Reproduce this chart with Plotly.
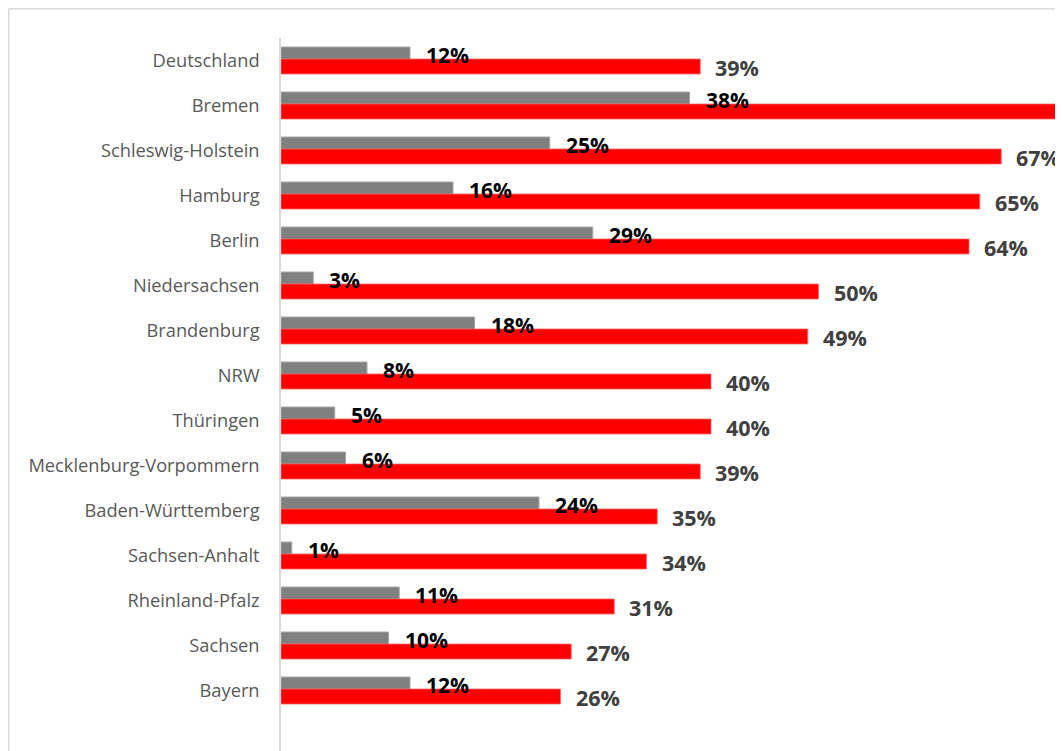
import plotly.graph_objects as go

categories = ["Deutschland", "Bremen", "Schleswig-Holstein", "Hamburg", "Berlin",
              "Niedersachsen", "Brandenburg", "NRW", "Thüringen",
              "Mecklenburg-Vorpommern", "Baden-Württemberg", "Sachsen-Anhalt",
              "Rheinland-Pfalz", "Sachsen", "Bayern"]
grey_values = [12, 38, 25, 16, 29, 3, 18, 8, 5, 6, 24, 1, 11, 10, 12]
red_values = [39, 75, 67, 65, 64, 50, 49, 40, 40, 39, 35, 34, 31, 27, 26]

# page has an 8px body margin; figure coordinates are page coordinates minus 8
W, H = 1055, 743
L, T = 273, 30
XMAX = (W - L) / 10.75
CAT_PX = 45.0
YMAX = -0.5 + (H - T) / CAT_PX

idx = list(range(len(categories)))
bw = 15 / CAT_PX

fig = go.Figure()
fig.add_trace(go.Bar(
    y=idx, x=grey_values, orientation="h",
    offset=-13.5 / CAT_PX, width=bw,
    marker=dict(color="#808080", line=dict(color="#a6a6a6", width=1)),
    hoverinfo="skip", showlegend=False,
))
fig.add_trace(go.Bar(
    y=idx, x=red_values, orientation="h",
    offset=-1.5 / CAT_PX, width=bw,
    marker=dict(color="#ff0000", line=dict(color="#ff6666", width=0.8)),
    hoverinfo="skip", showlegend=False,
))

annotations = []
for i, v in enumerate(grey_values):
    annotations.append(dict(
        x=v, y=i + (-13.5 + 7.5) / CAT_PX, xref="x", yref="y",
        text=f"<b>{v}%</b>", showarrow=False, xanchor="left", yanchor="middle",
        xshift=14, font=dict(family="Open Sans", size=21, color="#000000"),
    ))
for i, v in enumerate(red_values):
    if v > XMAX:
        continue
    annotations.append(dict(
        x=v, y=i + (-1.5 + 7.5) / CAT_PX, xref="x", yref="y",
        text=f"<b>{v}%</b>", showarrow=False, xanchor="left", yanchor="middle",
        xshift=13, yshift=-1, font=dict(family="Open Sans", size=21.5, color="#404040"),
    ))

px_x = lambda p: (p - L) / (W - L)
px_y = lambda p: 1 - (p - T) / (H - T)
shapes = [
    dict(type="line", xref="paper", yref="paper", x0=px_x(0.75), x1=px_x(W + 5),
         y0=px_y(0.75), y1=px_y(0.75), line=dict(color="#d9d9d9", width=1.5)),
    dict(type="line", xref="paper", yref="paper", x0=px_x(0.75), x1=px_x(0.75),
         y0=px_y(0.75), y1=px_y(H + 5), line=dict(color="#d9d9d9", width=1.5)),
]

fig.update_layout(
    width=W, height=H,
    margin=dict(l=L, r=0, t=T, b=0, pad=0),
    paper_bgcolor="white", plot_bgcolor="white",
    barmode="overlay",
    annotations=annotations, shapes=shapes,
    xaxis=dict(range=[0, XMAX], showgrid=False, zeroline=False, showticklabels=False,
               showline=False, fixedrange=True),
    yaxis=dict(range=[YMAX, -0.5], tickvals=idx, ticktext=categories,
               showgrid=False, zeroline=False, showline=True, linecolor="#d9d9d9",
               linewidth=1.5, ticks="outside", ticklen=16, tickcolor="rgba(0,0,0,0)",
               tickfont=dict(family="Open Sans", size=18.3, color="#595959")),
)

fig.write_html("out.html")
